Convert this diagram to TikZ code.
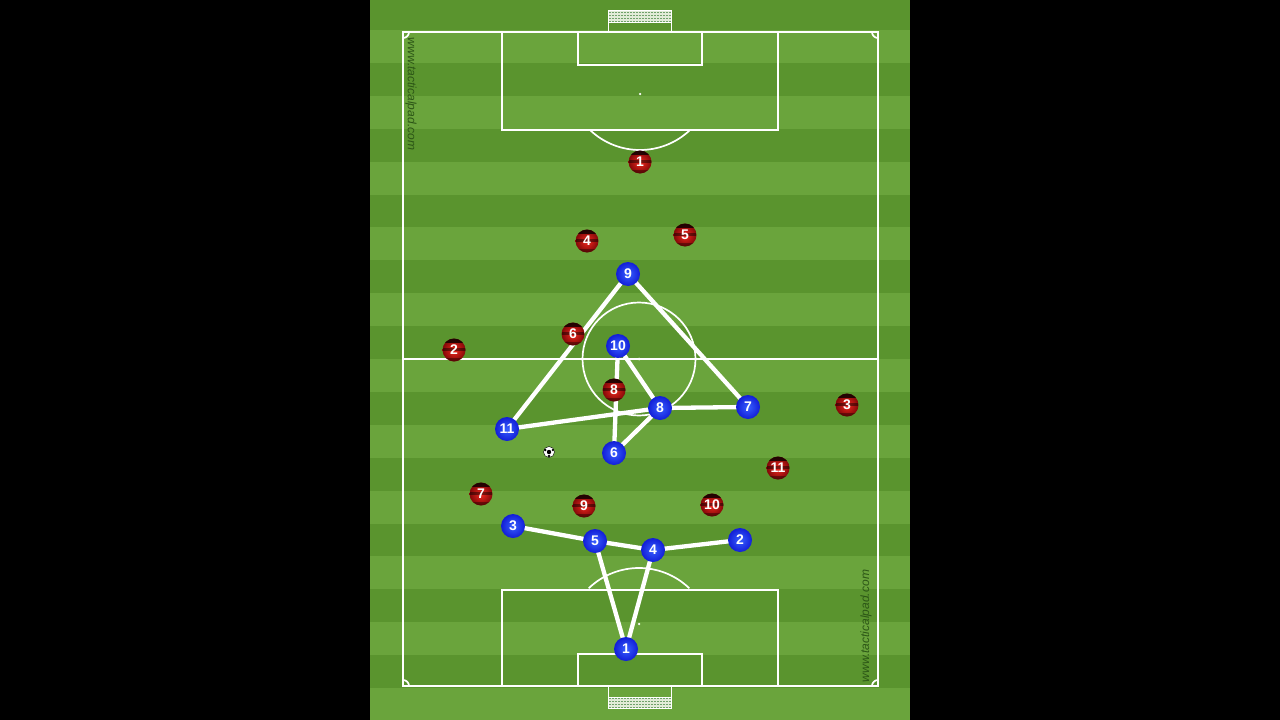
\documentclass[tikz,border=0pt]{standalone}
\usepackage{fontspec}
\newfontfamily\numfont{Liberation Sans}
\definecolor{grassL}{RGB}{106,164,60}
\definecolor{grassD}{RGB}{90,148,46}
\definecolor{wmark}{RGB}{44,86,22}
\definecolor{blueIn}{RGB}{55,95,255}
\definecolor{blueOut}{RGB}{18,30,215}
\definecolor{redIn}{RGB}{240,40,30}
\definecolor{redOut}{RGB}{130,8,8}
\definecolor{netC}{RGB}{225,235,215}
\pgfdeclarelayer{pitch}
\pgfdeclarelayer{links}
\pgfsetlayers{pitch,links,main}
\tikzset{
  pline/.style={white, line width=1.7pt},
  link/.style={white, line width=4.3pt, line cap=round},
  blueplayer/.style={circle, minimum size=24pt, inner sep=0pt, shading=radial,
    inner color=blueIn, outer color=blueOut, text=white,
    font=\numfont\bfseries\fontsize{14}{14}\selectfont},
  redplayer/.style={circle, minimum size=23pt, inner sep=0pt, shading=radial,
    inner color=redIn, outer color=redOut, text=white,
    font=\numfont\bfseries\fontsize{14}{14}\selectfont,
    path picture={
      \fill[black,opacity=.75] ([yshift=7pt]path picture bounding box.west) rectangle ([yshift=12pt]path picture bounding box.east);
      \fill[black,opacity=.45] ([yshift=-0.5pt]path picture bounding box.west) rectangle ([yshift=2.5pt]path picture bounding box.east);
      \fill[black,opacity=.35] ([yshift=-12pt]path picture bounding box.west) rectangle ([yshift=-8pt]path picture bounding box.east);
    }},
  wm/.style={text=wmark, font=\numfont\itshape\fontsize{12}{12}\selectfont, inner sep=0pt},
  spot/.style={white, inner sep=0pt, minimum size=3pt, circle, fill=white}
}
\begin{document}
\begin{tikzpicture}[x=1pt,y=-1pt]
\useasboundingbox (0,0) rectangle (1280,720);
\begin{pgfonlayer}{pitch}
\fill[black] (0,0) rectangle (1280,720);
\fill[grassD] (370,0) rectangle (910,720);
\foreach \k in {0,2,...,20}{
  \pgfmathsetmacro\ya{30+32.9*\k}
  \pgfmathsetmacro\yb{\ya+32.9}
  \fill[grassL] (370,\ya) rectangle (910,\yb);
}
% outer lines
\draw[pline] (403,32) rectangle (878,686);
\draw[pline] (403,359) -- (878,359);
\draw[pline] (639,359) circle (56.5);
\node[spot] (cspot) at (639,359) {};
% top area
\draw[pline] (502,32) rectangle (778,130);
\draw[pline] (578,32) rectangle (702,65);
\node[spot, minimum size=2.5pt] (tspot) at (640,94) {};
\draw[pline] (640,77.5) ++(46.4:72.5) arc (46.4:133.6:72.5);
% bottom area
\draw[pline] (502,590) rectangle (778,686);
\draw[pline] (578,654) rectangle (702,686);
\node[spot, minimum size=2.5pt] (bspot) at (639,624) {};
\draw[pline] (639,640.5) ++(226:72.5) arc (226:314:72.5);
% corner arcs
\draw[pline] (409,32) arc (0:90:6);
\draw[pline] (878,38) arc (90:180:6);
\draw[pline] (403,680) arc (270:360:6);
\draw[pline] (872,686) arc (180:270:6);
% goals
\fill[netC] (608,11) rectangle (671,22);
\foreach \i in {0,...,20}{\foreach \j in {0,...,3}{
  \fill[green!35!black,opacity=.5] (609+3*\i,11.5+3*\j) rectangle ++(1.5,1.5);}}
\draw[white, line width=1pt] (608,32) -- (608,10) -- (671,10) -- (671,32);
\draw[white, line width=0.8pt] (608,22) -- (671,22);
\fill[netC] (608,697) rectangle (671,708);
\foreach \i in {0,...,20}{\foreach \j in {0,...,3}{
  \fill[green!35!black,opacity=.5] (609+3*\i,697.5+3*\j) rectangle ++(1.5,1.5);}}
\draw[white, line width=1pt] (608,686) -- (608,708) -- (671,708) -- (671,686);
\draw[white, line width=0.8pt] (608,697) -- (671,697);
% watermarks
\node[wm, rotate=-90] (wm1) at (411,94) {www.tacticalpad.com};
\node[wm, rotate=90] (wm2) at (866,626) {www.tacticalpad.com};
\end{pgfonlayer}

% blue team
\node[blueplayer] (b9) at (628,274) {9};
\node[blueplayer] (b10) at (618,346) {10};
\node[blueplayer] (b8) at (660,408) {8};
\node[blueplayer] (b7) at (748,407) {7};
\node[blueplayer] (b11) at (507,429) {11};
\node[blueplayer] (b6) at (614,453) {6};
\node[blueplayer] (b3) at (513,526) {3};
\node[blueplayer] (b5) at (595,541) {5};
\node[blueplayer] (b4) at (653,550) {4};
\node[blueplayer] (b2) at (740,540) {2};
\node[blueplayer] (b1) at (626,649) {1};

% red team
\node[redplayer] (r1) at (640,162) {1};
\node[redplayer] (r4) at (587,241) {4};
\node[redplayer] (r5) at (685,235) {5};
\node[redplayer] (r6) at (573,334) {6};
\node[redplayer] (r2) at (454,350) {2};
\node[redplayer] (r8) at (614,390) {8};
\node[redplayer] (r3) at (847,405) {3};
\node[redplayer] (r11) at (778,468) {11};
\node[redplayer] (r7) at (481,494) {7};
\node[redplayer] (r9) at (584,506) {9};
\node[redplayer] (r10) at (712,505) {10};

% ball
\node[circle, fill=white, draw=black, line width=0.4pt, minimum size=11pt, inner sep=0pt] (ball) at (549,452) {};
\fill[black] (ball.center) circle (2.2);
\fill[black] ([xshift=-3.8pt,yshift=2pt]ball.center) circle (1.3);
\fill[black] ([xshift=3.8pt,yshift=2pt]ball.center) circle (1.3);
\fill[black] ([yshift=-4pt]ball.center) circle (1.3);

% links
\begin{pgfonlayer}{links}
\foreach \a/\b in {b9/b11, b9/b7, b11/b8, b8/b7, b10/b8, b10/b6, b6/b8,
                   b3/b5, b5/b4, b4/b2, b5/b1, b4/b1}{
  \draw[link] (\a.center) -- (\b.center);
}
\end{pgfonlayer}
\end{tikzpicture}
\end{document}
